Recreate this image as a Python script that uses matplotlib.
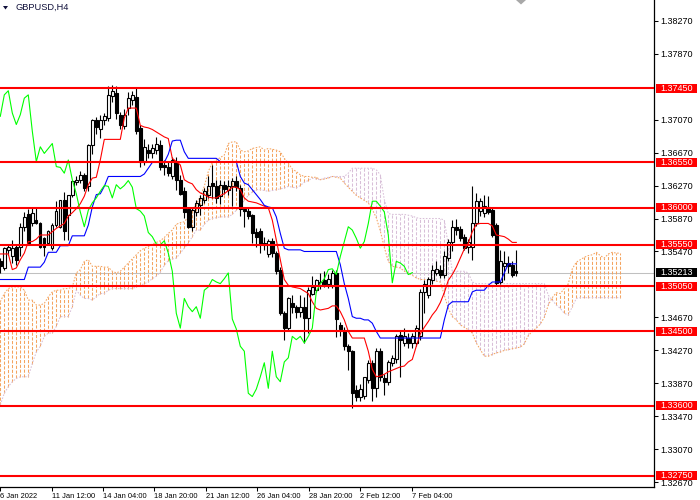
import numpy as np
import matplotlib
matplotlib.use("Agg")
import matplotlib.pyplot as plt
from matplotlib import transforms, font_manager
from matplotlib.patches import Rectangle, Polygon

plt.rcParams['font.family'] = ['Liberation Sans', 'DejaVu Sans']

symbol = "GBPUSD,H4"

opens = [
    1.3535, 1.3527, 1.3549, 1.3541, 1.3553, 1.3553, 1.3577, 1.3593, 1.3581, 1.3585,
    1.3581, 1.3563, 1.3557, 1.3551, 1.3579, 1.3577, 1.3609, 1.3591, 1.3616, 1.3631,
    1.3634, 1.3640, 1.3626, 1.3676, 1.3707, 1.3695, 1.3707, 1.3709, 1.3736, 1.3739,
    1.3713, 1.3699, 1.3721, 1.3731, 1.3735, 1.3697, 1.3656, 1.3670, 1.3666, 1.3670,
    1.3676, 1.3652, 1.3650, 1.3638, 1.3656, 1.3634, 1.3620, 1.3598, 1.3577, 1.3595,
    1.3603, 1.3610, 1.3616, 1.3630, 1.3626, 1.3614, 1.3628, 1.3622, 1.3626, 1.3633,
    1.3624, 1.3599, 1.3596, 1.3591, 1.3571, 1.3572, 1.3557, 1.3544, 1.3560, 1.3545,
    1.3525, 1.3472, 1.3454, 1.3484, 1.3480, 1.3474, 1.3480, 1.3466, 1.3496, 1.3500,
    1.3506, 1.3512, 1.3508, 1.3505, 1.3521, 1.3458, 1.3452, 1.3432, 1.3426, 1.3379,
    1.3371, 1.3372, 1.3391, 1.3412, 1.3381, 1.3426, 1.3393, 1.3389, 1.3412, 1.3416,
    1.3446, 1.3436, 1.3442, 1.3436, 1.3436, 1.3444, 1.3498, 1.3494, 1.3512, 1.3521,
    1.3525, 1.3519, 1.3539, 1.3559, 1.3577, 1.3574, 1.3565, 1.3553, 1.3553, 1.3581,
    1.3596, 1.3594, 1.3601, 1.3597, 1.3579, 1.3510, 1.3529, 1.3533, 1.3531, 1.3523,
]
highs = [
    1.3539, 1.3553, 1.3555, 1.3561, 1.3556, 1.3581, 1.3595, 1.3598, 1.3601, 1.3601,
    1.3583, 1.3565, 1.3573, 1.3582, 1.3608, 1.3610, 1.3619, 1.3616, 1.3634, 1.3638,
    1.3645, 1.3642, 1.3678, 1.3708, 1.3710, 1.3712, 1.3715, 1.3748, 1.3749, 1.3748,
    1.3716, 1.3720, 1.3740, 1.3742, 1.3745, 1.3700, 1.3684, 1.3678, 1.3678, 1.3686,
    1.3682, 1.3658, 1.3655, 1.3662, 1.3662, 1.3640, 1.3625, 1.3601, 1.3600, 1.3610,
    1.3615, 1.3624, 1.3638, 1.3652, 1.3634, 1.3634, 1.3633, 1.3634, 1.3636, 1.3638,
    1.3628, 1.3600, 1.3600, 1.3593, 1.3575, 1.3575, 1.3565, 1.3562, 1.3563, 1.3548,
    1.3528, 1.3475, 1.3492, 1.3494, 1.3482, 1.3494, 1.3492, 1.3504, 1.3517, 1.3514,
    1.3521, 1.3523, 1.3520, 1.3524, 1.3525, 1.3462, 1.3455, 1.3435, 1.3428, 1.3385,
    1.3386, 1.3395, 1.3415, 1.3415, 1.3430, 1.3430, 1.3398, 1.3415, 1.3422, 1.3447,
    1.3450, 1.3454, 1.3448, 1.3448, 1.3458, 1.3501, 1.3513, 1.3516, 1.3530, 1.3535,
    1.3530, 1.3547, 1.3562, 1.3585, 1.3586, 1.3578, 1.3568, 1.3562, 1.3626, 1.3618,
    1.3612, 1.3616, 1.3614, 1.3600, 1.3582, 1.3549, 1.3547, 1.3541, 1.3536, 1.3549,
]
lows = [
    1.3521, 1.3525, 1.3543, 1.3533, 1.3530, 1.3541, 1.3572, 1.3555, 1.3578, 1.3580,
    1.3551, 1.3541, 1.3555, 1.3549, 1.3577, 1.3575, 1.3561, 1.3561, 1.3613, 1.3628,
    1.3630, 1.3620, 1.3620, 1.3665, 1.3690, 1.3685, 1.3700, 1.3705, 1.3728, 1.3708,
    1.3695, 1.3695, 1.3712, 1.3725, 1.3690, 1.3650, 1.3652, 1.3660, 1.3660, 1.3665,
    1.3646, 1.3640, 1.3638, 1.3635, 1.3622, 1.3615, 1.3588, 1.3575, 1.3572, 1.3590,
    1.3591, 1.3606, 1.3612, 1.3612, 1.3606, 1.3604, 1.3617, 1.3616, 1.3602, 1.3620,
    1.3590, 1.3577, 1.3587, 1.3557, 1.3553, 1.3545, 1.3549, 1.3540, 1.3540, 1.3520,
    1.3470, 1.3440, 1.3450, 1.3472, 1.3466, 1.3468, 1.3436, 1.3448, 1.3494, 1.3498,
    1.3502, 1.3504, 1.3503, 1.3503, 1.3443, 1.3445, 1.3428, 1.3403, 1.3357, 1.3365,
    1.3366, 1.3368, 1.3388, 1.3365, 1.3371, 1.3390, 1.3373, 1.3385, 1.3408, 1.3412,
    1.3395, 1.3432, 1.3430, 1.3430, 1.3432, 1.3440, 1.3472, 1.3490, 1.3508, 1.3518,
    1.3515, 1.3515, 1.3535, 1.3548, 1.3567, 1.3560, 1.3549, 1.3545, 1.3537, 1.3578,
    1.3590, 1.3589, 1.3592, 1.3565, 1.3506, 1.3507, 1.3513, 1.3521, 1.3516, 1.3517,
]
closes = [
    1.3529, 1.3551, 1.3552, 1.3551, 1.3537, 1.3577, 1.3589, 1.3557, 1.3594, 1.3581,
    1.3553, 1.3553, 1.3572, 1.3579, 1.3596, 1.3609, 1.3572, 1.3616, 1.3632, 1.3634,
    1.3640, 1.3624, 1.3676, 1.3707, 1.3698, 1.3707, 1.3711, 1.3737, 1.3742, 1.3715,
    1.3701, 1.3713, 1.3733, 1.3737, 1.3693, 1.3656, 1.3674, 1.3666, 1.3672, 1.3678,
    1.3650, 1.3649, 1.3642, 1.3658, 1.3634, 1.3617, 1.3595, 1.3577, 1.3597, 1.3606,
    1.3612, 1.3620, 1.3627, 1.3626, 1.3612, 1.3628, 1.3623, 1.3627, 1.3633, 1.3625,
    1.3599, 1.3596, 1.3590, 1.3570, 1.3565, 1.3556, 1.3555, 1.3560, 1.3545, 1.3523,
    1.3472, 1.3454, 1.3490, 1.3480, 1.3474, 1.3480, 1.3466, 1.3500, 1.3504, 1.3513,
    1.3510, 1.3508, 1.3514, 1.3521, 1.3465, 1.3453, 1.3432, 1.3426, 1.3375, 1.3371,
    1.3380, 1.3395, 1.3412, 1.3381, 1.3426, 1.3395, 1.3389, 1.3413, 1.3418, 1.3444,
    1.3440, 1.3444, 1.3436, 1.3444, 1.3454, 1.3498, 1.3508, 1.3514, 1.3525, 1.3526,
    1.3519, 1.3541, 1.3559, 1.3577, 1.3573, 1.3563, 1.3551, 1.3559, 1.3581, 1.3608,
    1.3608, 1.3602, 1.3595, 1.3567, 1.3509, 1.3535, 1.3533, 1.3529, 1.3519, 1.35213,
]
tenkan = [
    1.3544, 1.3544, 1.3544, 1.3525, 1.3527, 1.3537, 1.3545, 1.3559, 1.3559, 1.3562,
    1.3567, 1.3567, 1.3567, 1.3571, 1.3575, 1.3578, 1.3581, 1.3590, 1.3594, 1.3599,
    1.3605, 1.3614, 1.3628, 1.3636, 1.3637, 1.3658, 1.3683, 1.3683, 1.3683, 1.3683,
    1.3683, 1.3709, 1.3721, 1.3721, 1.3721, 1.3700, 1.3698, 1.3697, 1.3695, 1.3692,
    1.3689, 1.3686, 1.3684, 1.3660, 1.3656, 1.3652, 1.3634, 1.3631, 1.3629, 1.3622,
    1.3618, 1.3616, 1.3613, 1.3612, 1.3612, 1.3615, 1.3617, 1.3621, 1.3625, 1.3625,
    1.3622, 1.3612, 1.3608, 1.3607, 1.3606, 1.3604, 1.3602, 1.3600, 1.3585, 1.3561,
    1.3537, 1.3513, 1.3506, 1.3504, 1.3503, 1.3502, 1.3499, 1.3496, 1.3486, 1.3478,
    1.3476, 1.3477, 1.3478, 1.3481, 1.3481, 1.3474, 1.3464, 1.3450, 1.3442, 1.3442,
    1.3442, 1.3442, 1.3426, 1.3404, 1.3395, 1.3396, 1.3398, 1.3401, 1.3403, 1.3405,
    1.3407, 1.3408, 1.3413, 1.3416, 1.3432, 1.3447, 1.3455, 1.3462, 1.3470, 1.3476,
    1.3485, 1.3497, 1.3512, 1.3519, 1.3528, 1.3539, 1.3550, 1.3557, 1.3571, 1.3580,
    1.3581, 1.3581, 1.3581, 1.3578, 1.3567, 1.3566, 1.3565, 1.3562, 1.3558, 1.3558,
]
kijun = [
    1.3513, 1.3513, 1.3513, 1.3513, 1.3513, 1.3513, 1.3513, 1.3528, 1.3528, 1.3528,
    1.3528, 1.3534, 1.3546, 1.3546, 1.3546, 1.3554, 1.3554, 1.3554, 1.3566, 1.3566,
    1.3566, 1.3566, 1.3579, 1.3601, 1.3616, 1.3617, 1.3626, 1.3638, 1.3638, 1.3638,
    1.3638, 1.3638, 1.3638, 1.3638, 1.3638, 1.3638, 1.3641, 1.3648, 1.3655, 1.3655,
    1.3655, 1.3655, 1.3665, 1.3681, 1.3682, 1.3682, 1.3668, 1.3660, 1.3660, 1.3660,
    1.3660, 1.3660, 1.3660, 1.3660, 1.3660, 1.3656, 1.3656, 1.3656, 1.3656, 1.3656,
    1.3638, 1.3630, 1.3628, 1.3622, 1.3616, 1.3610, 1.3603, 1.3601, 1.3600, 1.3589,
    1.3569, 1.3551, 1.3549, 1.3549, 1.3549, 1.3549, 1.3547, 1.3547, 1.3547, 1.3547,
    1.3547, 1.3547, 1.3547, 1.3547, 1.3547, 1.3531, 1.3508, 1.3490, 1.3468, 1.3466,
    1.3466, 1.3464, 1.3464, 1.3460, 1.3450, 1.3442, 1.3442, 1.3442, 1.3442, 1.3442,
    1.3442, 1.3442, 1.3442, 1.3442, 1.3442, 1.3442, 1.3442, 1.3442, 1.3442, 1.3442,
    1.3442, 1.3464, 1.3482, 1.3486, 1.3486, 1.3486, 1.3486, 1.3486, 1.3498, 1.3500,
    1.3500, 1.3500, 1.3506, 1.3510, 1.3510, 1.3510, 1.3521, 1.3532, 1.3532, 1.3532,
]
span_a = [
    1.3486, 1.3496, 1.3502, 1.3504, 1.3504, 1.3504, 1.3500, 1.3488, 1.3488, 1.3482,
    1.3482, 1.3484, 1.3492, 1.3498, 1.3500, 1.3500, 1.3502, 1.3502, 1.3504, 1.3521,
    1.3525, 1.3535, 1.3537, 1.3529, 1.3529, 1.3529, 1.3528, 1.3528, 1.3523, 1.3521,
    1.3523, 1.3528, 1.3533, 1.3538, 1.3543, 1.3548, 1.3551, 1.3553, 1.3556, 1.3558,
    1.3560, 1.3564, 1.3569, 1.3573, 1.3580, 1.3582, 1.3583, 1.3589, 1.3597, 1.3604,
    1.3614, 1.3626, 1.3644, 1.3655, 1.3658, 1.3661, 1.3664, 1.3678, 1.3680, 1.3680,
    1.3670, 1.3668, 1.3669, 1.3672, 1.3673, 1.3674, 1.3670, 1.3672, 1.3671, 1.3670,
    1.3668, 1.3660, 1.3654, 1.3647, 1.3644, 1.3640, 1.3638, 1.3638, 1.3637, 1.3637,
    1.3634, 1.3635, 1.3636, 1.3638, 1.3637, 1.3636, 1.3630, 1.3625, 1.3620, 1.3615,
    1.3612, 1.3609, 1.3606, 1.3598, 1.3588, 1.3572, 1.3552, 1.3535, 1.3529, 1.3528,
    1.3527, 1.3523, 1.3521, 1.3518, 1.3515, 1.3513, 1.3513, 1.3513, 1.3512, 1.3511,
    1.3510, 1.3494, 1.3478, 1.3468, 1.3464, 1.3458, 1.3455, 1.3452, 1.3448, 1.3436,
    1.3428, 1.3420, 1.3420, 1.3422, 1.3424, 1.3425, 1.3427, 1.3428, 1.3429, 1.3430,
    1.3431, 1.3435, 1.3445, 1.3450, 1.3454, 1.3459, 1.3467, 1.3482, 1.3491, 1.3497,
    1.3496, 1.3502, 1.3508, 1.3526, 1.3534, 1.3537, 1.3540, 1.3542, 1.3543, 1.3546,
    1.3542, 1.3539, 1.3544, 1.3546, 1.3545, 1.3545,
]
span_b = [
    1.3361, 1.3375, 1.3383, 1.3389, 1.3393, 1.3395, 1.3395, 1.3395, 1.3411, 1.3425,
    1.3432, 1.3444, 1.3448, 1.3448, 1.3456, 1.3468, 1.3468, 1.3468, 1.3480, 1.3500,
    1.3494, 1.3490, 1.3490, 1.3488, 1.3492, 1.3496, 1.3496, 1.3500, 1.3502, 1.3502,
    1.3502, 1.3502, 1.3502, 1.3502, 1.3504, 1.3506, 1.3508, 1.3510, 1.3514, 1.3517,
    1.3522, 1.3530, 1.3536, 1.3538, 1.3539, 1.3545, 1.3551, 1.3557, 1.3565, 1.3573,
    1.3573, 1.3580, 1.3585, 1.3587, 1.3588, 1.3589, 1.3589, 1.3589, 1.3592, 1.3597,
    1.3602, 1.3609, 1.3615, 1.3619, 1.3622, 1.3622, 1.3621, 1.3620, 1.3621, 1.3622,
    1.3623, 1.3624, 1.3626, 1.3625, 1.3624, 1.3627, 1.3631, 1.3633, 1.3636, 1.3635,
    1.3634, 1.3636, 1.3637, 1.3638, 1.3638, 1.3638, 1.3638, 1.3642, 1.3648, 1.3648,
    1.3648, 1.3648, 1.3648, 1.3648, 1.3646, 1.3640, 1.3610, 1.3593, 1.3592, 1.3592,
    1.3592, 1.3592, 1.3591, 1.3590, 1.3588, 1.3587, 1.3587, 1.3587, 1.3587, 1.3587,
    1.3587, 1.3585, 1.3555, 1.3523, 1.3523, 1.3523, 1.3523, 1.3521, 1.3510, 1.3508,
    1.3508, 1.3508, 1.3508, 1.3508, 1.3508, 1.3508, 1.3508, 1.3508, 1.3508, 1.3508,
    1.3508, 1.3508, 1.3508, 1.3508, 1.3508, 1.3508, 1.3508, 1.3494, 1.3488, 1.3482,
    1.3478, 1.3472, 1.3470, 1.3480, 1.3490, 1.3491, 1.3491, 1.3491, 1.3491, 1.3491,
    1.3491, 1.3491, 1.3491, 1.3491, 1.3491, 1.3491,
]
levels = [1.3745, 1.3655, 1.3600, 1.3555, 1.3505, 1.3450, 1.3360, 1.3275]
bid = 1.35213
price_ticks = [1.3827, 1.3787, 1.3707, 1.3667, 1.3627, 1.3587, 1.3547,
               1.3467, 1.3427, 1.3387, 1.3347, 1.3307, 1.3267]
time_labels = ["6 Jan 2022", "11 Jan 12:00", "14 Jan 04:00", "18 Jan 20:00",
               "21 Jan 12:00", "26 Jan 04:00", "28 Jan 20:00", "2 Feb 12:00",
               "7 Feb 04:00"]
time_label_bars = [-0.07, 12.85, 25.75, 38.5, 51.4, 64.25, 77.2, 89.9, 102.85]
chikou_shift = 26

# ---------------------------------------------------------------------------
O = np.array(opens); Hh = np.array(highs); L = np.array(lows); C = np.array(closes)
n = min(len(O), len(Hh), len(L), len(C))
O, Hh, L, C = O[:n], Hh[:n], L[:n], C[:n]
x = np.arange(n)
A = np.array(span_a); B = np.array(span_b)
m = min(len(A), len(B))
A, B = A[:m], B[:m]
xc = np.arange(m)

UP = '#F4A460'     # sandy brown
DN = '#D8BFD8'     # thistle

# narrow font for the time scale, if available
installed = {f.name for f in font_manager.fontManager.ttflist}
if 'Liberation Sans Narrow' in installed:
    time_font = dict(family=['Liberation Sans Narrow', 'DejaVu Sans'], size=6.6)
else:
    time_font = dict(family=['Liberation Sans', 'DejaVu Sans'], size=5.4)

fig = plt.figure(figsize=(7, 5), dpi=100)
fig.patch.set_facecolor('white')
ax = fig.add_axes([0, 13 / 500, 654 / 700, 487 / 500])
ax.set_facecolor('white')

ymin, ymax = 1.326126, 1.38521
ax.set_xlim(-0.075, 163.425)
ax.set_ylim(ymin, ymax)

# bid line
ax.axhline(bid, color='#C0C0C0', lw=0.75, zorder=0.5)

# cloud hatching
cols = [UP if a >= b else DN for a, b in zip(A, B)]
ax.vlines(xc, np.minimum(A, B), np.maximum(A, B), colors=cols,
          linestyles=(0, (3, 1.6)), lw=0.75, zorder=1)
ax.plot(xc, A, color=UP, ls=(0, (1.5, 1.5)), lw=0.75, zorder=1.2)
ax.plot(xc, B, color=DN, ls=(0, (1.5, 1.5)), lw=0.75, zorder=1.2)

# candles
body_lo = np.minimum(O, C)
body_hi = np.maximum(O, C)
body_hi = np.maximum(body_hi, body_lo + 0.00007)
bull = C >= O
ax.vlines(x, body_hi, Hh, color='black', lw=0.8, zorder=3)
ax.vlines(x, L, body_lo, color='black', lw=0.8, zorder=3)
ax.bar(x[bull], (body_hi - body_lo)[bull], bottom=body_lo[bull], width=0.6,
       facecolor='none', edgecolor='black', linewidth=0.8, zorder=3.2)
ax.bar(x[~bull], (body_hi - body_lo)[~bull], bottom=body_lo[~bull], width=0.6,
       facecolor='black', edgecolor='black', linewidth=0.8, zorder=3.2)

# ichimoku lines
ax.plot(np.arange(len(tenkan)), tenkan, color='#FF0000', lw=0.8, zorder=4)
ax.plot(np.arange(len(kijun)), kijun, color='#0000FF', lw=0.8, zorder=4)
ax.plot(x[:n - chikou_shift], C[chikou_shift:], color='#00FF00', lw=0.8, zorder=4)

# horizontal levels
for lv in levels:
    ax.axhline(lv, color='#FF0000', lw=1.5, zorder=6)

# axes styling
for s in ['top', 'left']:
    ax.spines[s].set_visible(False)
for s in ['right', 'bottom']:
    ax.spines[s].set_color('black')
    ax.spines[s].set_linewidth(0.9)
ax.yaxis.tick_right()
ax.set_yticks(price_ticks)
ax.set_yticklabels([f"{v:.5f}" for v in price_ticks])
ax.tick_params(axis='y', direction='out', length=3, width=0.75, pad=1.8,
               labelsize=6.5, colors='black')
ax.set_xticks(time_label_bars)
ax.set_xticklabels(time_labels, ha='left')
ax.tick_params(axis='x', direction='out', length=3, width=0.75, pad=1.5,
               colors='black')
for t in ax.get_xticklabels():
    t.set_fontfamily(time_font['family'])
    t.set_fontsize(time_font['size'])

# price labels boxes
px = (ymax - ymin) / 487.0
blend = transforms.blended_transform_factory(fig.transFigure, ax.transData)
def price_box(val, fc):
    h = 9 * px
    r = Rectangle((655.5 / 700, val - h / 2), 41 / 700, h, transform=blend,
                  facecolor=fc, edgecolor='none', clip_on=False, zorder=10)
    ax.add_patch(r)
    ax.text(660 / 700, val, f"{val:.5f}", transform=blend, color='white',
            fontsize=6.5, va='center', ha='left', clip_on=False, zorder=11)

for lv in levels:
    price_box(lv, '#FF0000')
price_box(bid, '#000000')

# title
fig.text(15 / 700, 1 - 7.5 / 500, symbol, fontsize=6.7, color='#10103A',
         va='center', ha='left')
tri = Polygon([(3 / 700, 1 - 6 / 500), (8 / 700, 1 - 6 / 500), (5.5 / 700, 1 - 9.5 / 500)],
              closed=True, transform=fig.transFigure, facecolor='#10103A', edgecolor='none')
fig.add_artist(tri)
tri2 = Polygon([(516 / 700, 1.0), (526 / 700, 1.0), (521 / 700, 1 - 4.5 / 500)],
               closed=True, transform=fig.transFigure, facecolor='#A8A8A8', edgecolor='none')
fig.add_artist(tri2)

fig.savefig("out.png", dpi=100)
